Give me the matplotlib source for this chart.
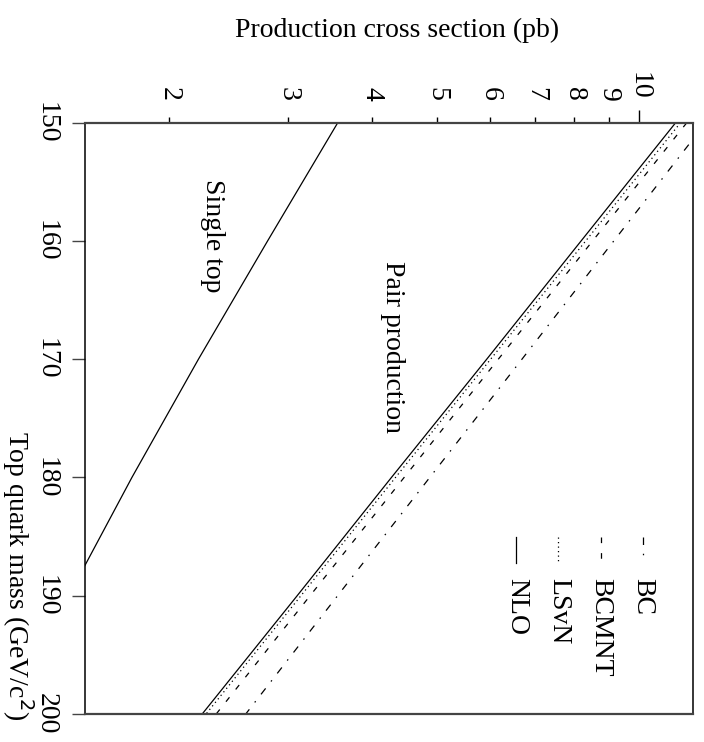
import numpy as np
import matplotlib.pyplot as plt

plt.rcParams['font.family'] = ['Liberation Serif', 'DejaVu Serif']
plt.rcParams['font.size'] = 20

# top quark mass (GeV/c^2) and cross sections (pb)
mass = [150, 160, 170, 180, 190, 200]
nlo = [11.32, 8.19, 5.93, 4.28, 3.10, 2.24]
lsvn = [11.51, 8.32, 6.01, 4.34, 3.14, 2.27]
bcmnt = [11.76, 8.52, 6.17, 4.47, 3.24, 2.35]
bc = [12.55, 9.16, 6.69, 4.88, 3.56, 2.60]

single_mass = [150, 160, 170, 180, 187.4, 190, 200]
single_top = [3.56, 2.80, 2.21, 1.76, 1.50, 1.42, 1.15]

names = ['BC', 'BCMNT', 'LSvN', 'NLO']
curves = [bc, bcmnt, lsvn, nlo]
styles = [(0, (6, 7, 1.2, 7)), (0, (4.5, 8)), (0, (1, 2.6)), '-']

mass_ticks = [150, 160, 170, 180, 190, 200]
xs_minor = [2, 3, 4, 5, 6, 7, 8, 9]

fig = plt.figure(figsize=(7.04, 7.42), dpi=100)
ax = fig.add_axes([85.3/704, 1-713.7/742, 607.4/704, 591/742])

for name, vals, ls in zip(names, curves, styles):
    ax.plot(vals, mass, color='black', lw=0.9, linestyle=ls)
ax.plot(single_top, single_mass, color='black', lw=0.9)

ax.set_xscale('log')
ax.set_xlim(1.5, 12)
ax.set_ylim(200, 150)

# cross section axis on top, rotated labels
ax.xaxis.set_ticks_position('top')
ax.set_xticks([10])
ax.set_xticklabels(['10'])
ax.set_xticks(xs_minor, minor=True)
ax.set_xticklabels([str(v) for v in xs_minor], minor=True)
ax.tick_params(axis='x', which='major', direction='out', length=9.4, width=1, pad=7, labelrotation=-90)
ax.tick_params(axis='x', which='minor', direction='out', length=4.5, width=1, pad=11.5, labelrotation=-90)

ax.set_yticks(mass_ticks)
ax.set_yticklabels([str(v) for v in mass_ticks])
ax.tick_params(axis='y', which='both', left=True, right=False, direction='out',
               length=9.4, width=1, pad=9.5, labelrotation=-90, color='#444444')
for lbl in ax.get_yticklabels():
    lbl.set_va('center')

for s in ['top', 'bottom']:
    ax.spines[s].set_linewidth(1.6)
    ax.spines[s].set_color('#444444')
for s in ['left', 'right']:
    ax.spines[s].set_linewidth(1.1)
    ax.spines[s].set_color('black')

ax.text(2.32, 159.6, 'Single top', rotation=-90, ha='center', va='center')
ax.text(4.29, 169.0, 'Pair production', rotation=-90, ha='center', va='center')

# legend drawn by hand, rotated like the rest
for i, (name, ls) in enumerate(zip(names, styles)):
    x = 0.918 - i * 0.0695
    ax.plot([x, x], [0.299, 0.255], transform=ax.transAxes, color='black', lw=0.9, linestyle=ls)
    ax.text(x, 0.2296, name, transform=ax.transAxes, rotation=-90, rotation_mode='anchor',
            ha='left', va='center')

fig.text(397/704, 1-30/742, 'Production cross section (pb)', ha='center', va='center')
fig.text(18/704, 1-576/742, 'Top quark mass (GeV/c$^2$)', rotation=-90, ha='center', va='center')

fig.savefig('out.png', dpi=100)
